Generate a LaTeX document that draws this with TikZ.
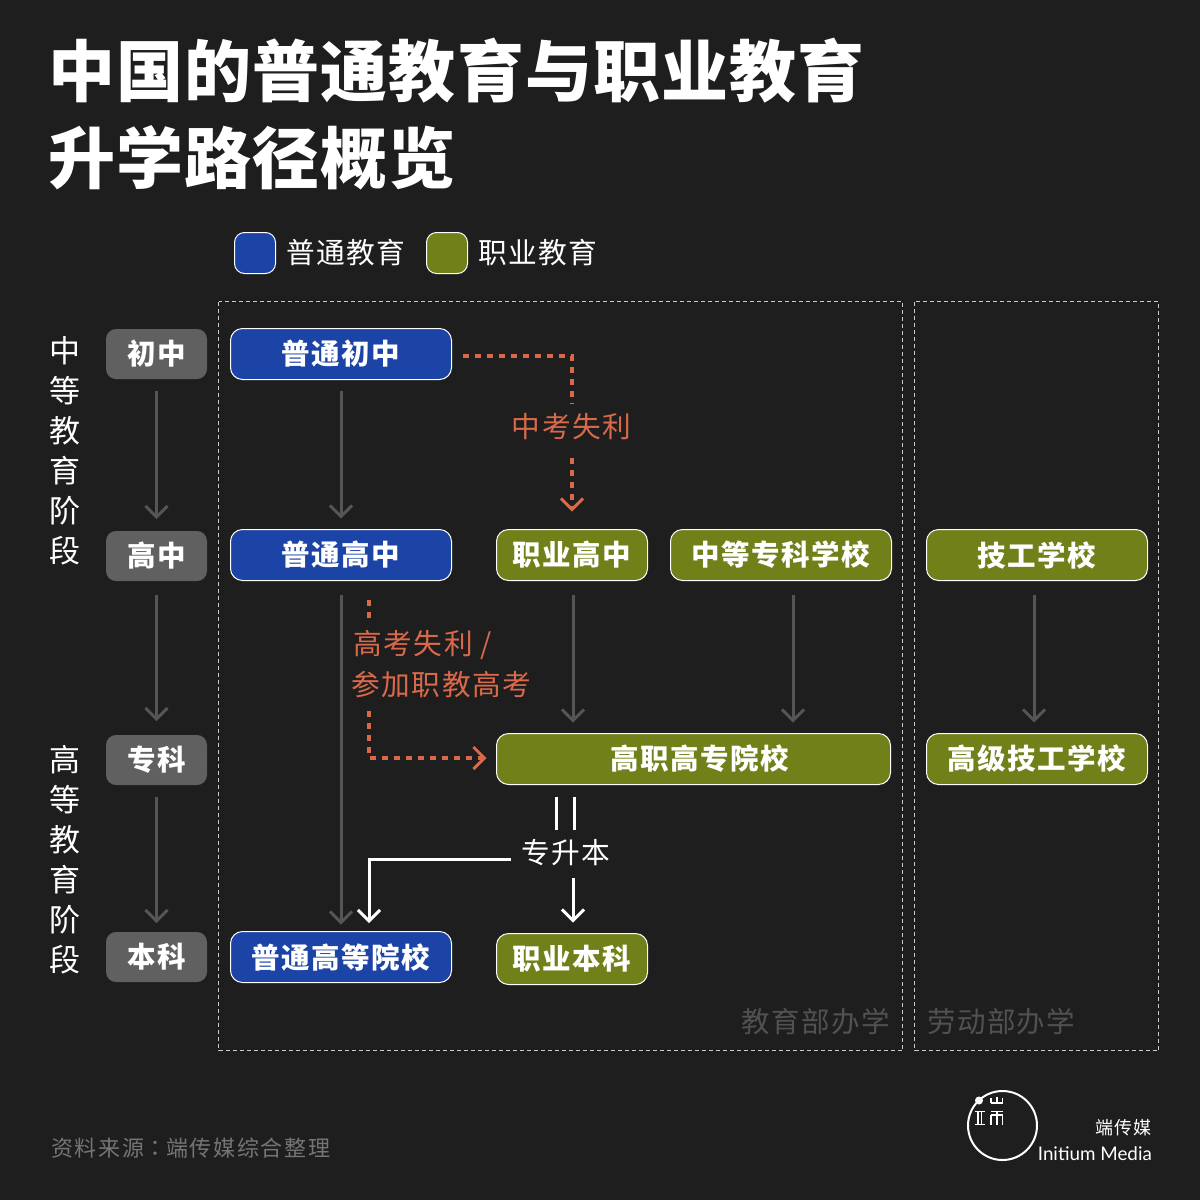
\documentclass[tikz,border=0pt]{standalone}
\usepackage{fontspec}
\usetikzlibrary{arrows.meta}
\setmainfont{Noto Sans CJK SC}[BoldFont={Noto Sans CJK SC Black},LetterSpace=5]
\newfontfamily\titlefont{Noto Sans CJK SC Black}[LetterSpace=1.6]
\newfontfamily\latinfont{Lato}
\newfontfamily\tcfont{Noto Sans CJK TC}
\newfontfamily\plainfont{Noto Sans CJK SC}[LetterSpace=7.5]
\newcommand{\fs}[1]{\fontsize{#1}{#1}\selectfont}
\newcommand{\bt}[1]{\raisebox{1pt}{#1}}
\definecolor{bgc}{HTML}{1E1E1E}
\definecolor{bluec}{HTML}{1C43A6}
\definecolor{olivec}{HTML}{72801A}
\definecolor{stagec}{HTML}{606060}
\definecolor{orangec}{HTML}{D9694A}
\definecolor{arrowc}{HTML}{555555}
\definecolor{faintc}{HTML}{515151}
\definecolor{srcc}{HTML}{757575}
\tikzset{
  x=1pt,y=-1pt,
  vee/.tip={Straight Barb[width=22pt,length=11pt,line width=3pt]},
  boxbase/.style={rounded corners=12pt,draw=white,line width=1pt,text=white,inner sep=0pt,outer sep=0pt,font=\fs{28.5}\bfseries,minimum height=51pt},
  bluebox/.style={boxbase,fill=bluec},
  olivebox/.style={boxbase,fill=olivec},
  stagebox/.style={rounded corners=10pt,fill=stagec,text=white,inner sep=0pt,outer sep=0pt,font=\fs{28.5}\bfseries,minimum width=101pt,minimum height=50pt},
  grayarrow/.style={draw=arrowc,line width=3pt,-{vee}},
  orangeline/.style={draw=orangec,line width=3.4pt,dash pattern=on 6pt off 6pt},
  orangearrow/.style={orangeline,-{vee[sep=0pt]}},
  whiteline/.style={draw=white,line width=3pt},
  whitearrow/.style={whiteline,-{vee}},
  zone/.style={draw=white!80!black,line width=1pt,dash pattern=on 4pt off 3pt},
  orangelabel/.style={text=orangec,font=\fs{28.7},inner sep=0pt},
  sidelabel/.style={text=white,font=\fs{31},inner sep=0pt},
  faintlabel/.style={text=faintc,font=\fs{28.5},inner sep=0pt},
}
\begin{document}
\begin{tikzpicture}
\fill[bgc] (0,0) rectangle (1200,1200);
\useasboundingbox (0,0) rectangle (1200,1200);
% title
\node[text=white,font=\fs{67}\titlefont,anchor=west,inner sep=0pt] (t1) at (48.5,71) {中国的普通教育与职业教育};
\node[text=white,font=\fs{67}\titlefont,anchor=west,inner sep=0pt] (t2) at (48,158) {升学路径概览};
% legend
\node[rounded corners=10pt,fill=bluec,draw=white,line width=1pt,minimum size=41pt,inner sep=0pt] (lg1) at (255,253) {};
\node[text=white,font=\fs{28.7},anchor=west,inner sep=0pt] (lt1) at (286,252.5) {普通教育};
\node[rounded corners=10pt,fill=olivec,draw=white,line width=1pt,minimum size=41pt,inner sep=0pt] (lg2) at (447,253) {};
\node[text=white,font=\fs{28.7},anchor=west,inner sep=0pt] (lt2) at (478,252.5) {职业教育};
% zones
\draw[zone] (218.5,301.5) rectangle (902.5,1050.5);
\draw[zone] (914.5,301.5) rectangle (1158.5,1050.5);
\node[faintlabel,anchor=east] (z1) at (890,1021.5) {教育部办学};
\node[faintlabel,anchor=west] (z2) at (927,1021.5) {劳动部办学};
% side labels
\foreach \t/\y [count=\i] in {中/351,等/391,教/431,育/471,阶/511,段/551}
  \node[sidelabel] (sa\i) at (65,\y) {\t};
\foreach \t/\y [count=\i] in {高/760,等/800,教/840,育/880,阶/920,段/960}
  \node[sidelabel] (sb\i) at (65,\y) {\t};
% stage
\node[stagebox] (s1) at (156.5,354) {\bt{初中}};
\node[stagebox] (s2) at (156.5,556) {\raisebox{3pt}{高中}};
\node[stagebox] (s3) at (156.5,760) {\bt{专科}};
\node[stagebox] (s4) at (156.5,957) {\bt{本科}};
% boxes
\node[bluebox,minimum width=221pt] (a1) at (341,354) {\bt{普通初中}};
\node[bluebox,minimum width=221pt] (a2) at (341,555) {\bt{普通高中}};
\node[bluebox,minimum width=221pt] (a3) at (341,957) {\bt{普通高等院校}};
\node[olivebox,minimum width=151pt] (b1) at (572,555) {\bt{职业高中}};
\node[olivebox,minimum width=221pt] (b2) at (781,555) {\bt{中等专科学校}};
\node[olivebox,minimum width=221pt] (c1) at (1037,555) {\bt{技工学校}};
\node[olivebox,minimum width=394pt] (d1) at (693.5,759) {\hspace*{13pt}\bt{高职高专院校}};
\node[olivebox,minimum width=221pt] (c2) at (1037,759) {\bt{高级技工学校}};
\node[olivebox,minimum width=151pt] (e1) at (572,959) {\bt{职业本科}};
% gray arrows
\draw[grayarrow] ([yshift=-12pt]s1.south) -- ([yshift=12pt]s2.north);
\draw[grayarrow] ([yshift=-14pt]s2.south) -- ([yshift=14pt]s3.north);
\draw[grayarrow] ([yshift=-12pt]s3.south) -- ([yshift=9pt]s4.north);
\draw[grayarrow] ([yshift=-11pt]a1.south) -- ([yshift=11pt]a2.north);
\draw[grayarrow] ([yshift=-14pt]a2.south) -- ([yshift=7pt]a3.north);
\draw[grayarrow] ([xshift=1pt,yshift=-14pt]b1.south) -- ([xshift=-120.5pt,yshift=11pt]d1.north);
\draw[grayarrow] ([xshift=12pt,yshift=-14pt]b2.south) -- ([xshift=99.5pt,yshift=11pt]d1.north);
\draw[grayarrow] ([xshift=-3pt,yshift=-14pt]c1.south) -- ([xshift=-3pt,yshift=11pt]c2.north);
% orange 1
\node[orangelabel] (ol1) at (571.5,427) {中考失利};
\coordinate (o1) at (572,356);
\draw[orangeline] ([xshift=11pt,yshift=-2pt]a1.east) -- (o1) -- ([yshift=10pt]ol1.north -| o1);
\draw[orangearrow] ([yshift=-18pt]ol1.south -| o1) -- ([yshift=18pt]b1.north);
% orange 2
\node[orangelabel,anchor=west] (ol2) at (353.5,645) {高考失利 /};
\node[orangelabel,anchor=west] (ol3) at (351.5,685) {参加职教高考};
\coordinate (o2) at (369,758);
\draw[orangeline] (369,600) -- ([yshift=8pt]ol2.north -| o2);
\draw[orangearrow] ([yshift=-12pt]ol3.south -| o2) -- (o2) -- ([xshift=-10pt,yshift=1pt]d1.west);
% white
\node[text=white,font=\fs{28.7},inner sep=0pt] (w) at (566,853) {专升本};
\coordinate (w1) at (369,859);
\draw[whiteline] ([xshift=-9.5pt,yshift=-12pt]d1.south -| w) -- ([xshift=-9.5pt,yshift=10pt]w.north);
\draw[whiteline] ([xshift=8.5pt,yshift=-12pt]d1.south -| w) -- ([xshift=8.5pt,yshift=10pt]w.north);
\draw[whitearrow] ([xshift=-10pt,yshift=-6pt]w.west) -- (w1) -- (w1 |- 369,923);
\draw[whitearrow] ([xshift=1pt,yshift=-12pt]w.south -| e1) -- ([xshift=1pt,yshift=11pt]e1.north);
% source
\node[text=srcc,font=\fs{22}\plainfont,anchor=west,inner sep=0pt] (src) at (51,1148) {资料来源{\tcfont ：}端传媒综合整理};
% logo
\node[draw=white,line width=2pt,circle,minimum size=69pt,inner sep=0pt] (lc) at (1002.5,1125.5) {};
\fill[white] (979,1100.5) circle (4pt);
\draw[white,line width=1.4pt]
  (974.7,1111.5) -- (984.7,1111.5) (974.7,1124.5) -- (984.7,1124.5)
  (978,1111.5) -- (978,1124.5) (981.5,1111.5) -- (981.5,1124.5)
  (990.5,1103) -- (1003,1103) (991,1098) -- (991,1103) (996.8,1096.5) -- (996.8,1103) (1002.6,1098) -- (1002.6,1103)
  (990.5,1111.5) -- (1003,1111.5) (990.5,1115) -- (1003,1115)
  (991,1115) -- (991,1125) (996.8,1111.5) -- (996.8,1125) (1002.6,1115) -- (1002.6,1125);
\node[text=white,font=\fs{18}\plainfont,anchor=east,inner sep=0pt] (l1) at (1152,1128) {端传媒};
\node[text=white,font=\fs{18.8}\latinfont,anchor=east,inner sep=0pt] (l2) at (1152,1154) {Initium Media};
\end{tikzpicture}
\end{document}
